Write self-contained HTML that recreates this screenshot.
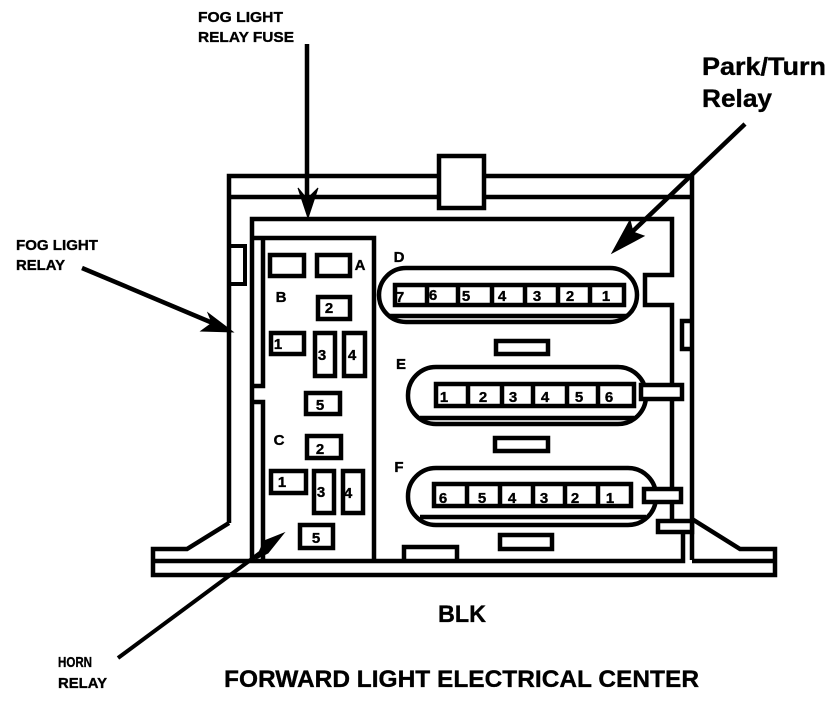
<!DOCTYPE html>
<html><head><meta charset="utf-8"><style>
html,body{margin:0;padding:0;background:#fff}
svg{display:block}
text{font-family:"Liberation Sans",sans-serif;font-weight:bold;fill:#000;stroke:#000;stroke-width:.35px}
.l{font-size:15px}.n{font-size:15px;text-anchor:middle}
</style></head><body>
<svg width="834" height="704" viewBox="0 0 834 704" xmlns="http://www.w3.org/2000/svg">
<g fill="none" stroke="#000" stroke-width="4.5">
<!-- outer housing -->
<path d="M229 523V176H692V560" />
<path d="M229 197H692" />
<path d="M229 523L187 549H153V575H775V549H740L692 519" />
<path d="M229 246H245V284H229" stroke-width="4"/>
<rect x="439" y="156" width="45" height="52" fill="#fff"/>
<!-- inner wall -->
<path d="M252 561V219H672V275H645V305H672V523"/>
<path d="M251 238H374V561" />
<path d="M153 561H683V533" />
<path d="M692 561H775"/>
<path d="M263 238V386H252M252 402H263V561"/>
<path d="M692 321H682V349H692" />
<!-- left fuses -->
<rect x="270" y="255" width="34" height="21"/>
<rect x="317" y="255" width="33" height="21"/>
<rect x="318" y="297" width="32" height="22"/>
<rect x="271" y="333" width="33" height="21"/>
<rect x="315" y="333" width="20" height="43"/>
<rect x="344" y="333" width="21" height="43"/>
<rect x="306" y="393" width="34" height="21"/>
<rect x="307" y="436" width="34" height="22"/>
<rect x="271" y="471" width="35" height="22"/>
<rect x="314" y="471" width="20" height="42"/>
<rect x="343" y="471" width="20" height="42"/>
<rect x="300" y="525" width="33" height="23"/>
<!-- D -->
<rect x="379" y="268" width="258" height="54" rx="27"/>
<path d="M388 316H628"/>
<rect x="395" y="285" width="229" height="20"/>
<path d="M427 285V305M458 285V305M492 285V305M525 285V305M558 285V305M590 285V305"/>
<rect x="496" y="341" width="52" height="13"/>
<!-- E -->
<rect x="408" y="367" width="238" height="57" rx="28"/>
<path d="M420 418H634"/>
<rect x="436" y="384" width="198" height="22"/>
<path d="M468 384V406M502 384V406M533 384V406M567 384V406M598 384V406"/>
<rect x="641" y="385" width="41" height="14" fill="#fff"/>
<rect x="495" y="438" width="53" height="13"/>
<!-- F -->
<rect x="408" y="468" width="248" height="57" rx="28"/>
<path d="M420 517H646"/>
<rect x="434" y="484" width="197" height="22"/>
<path d="M467 484V506M500 484V506M533 484V506M565 484V506M598 484V506"/>
<rect x="644" y="489" width="37" height="13" fill="#fff"/>
<rect x="500" y="535" width="52" height="14"/>
<rect x="658" y="521" width="34" height="11" fill="#fff"/>
<path d="M404 561V547H457V561"/>
</g>
<!-- arrows -->
<g stroke="#000" stroke-width="4.5" fill="#000">
<path d="M307 44V200" fill="none"/>
<path d="M298 188L307 199L318 188L308 218Z" stroke-width="1"/>
<path d="M82 268L215 324" fill="none"/>
<path d="M208 313L233 332L201 331L212 323Z" stroke-width="1"/>
<path d="M745 124L632 232" fill="none"/>
<path d="M630 220L633 232L644 236L612 253Z" stroke-width="1"/>
<path d="M118 658L268 547" fill="none" stroke-width="4"/>
<path d="M284 533L268 553L256 559L264 541Z" stroke-width="1"/>
</g>
<!-- labels -->
<text class="l" x="198" y="22" textLength="85" lengthAdjust="spacingAndGlyphs">FOG LIGHT</text>
<text class="l" x="198" y="42" textLength="96" lengthAdjust="spacingAndGlyphs">RELAY FUSE</text>
<text x="702" y="75" font-size="25" textLength="124" lengthAdjust="spacingAndGlyphs">Park/Turn</text>
<text x="702" y="107" font-size="25" textLength="70" lengthAdjust="spacingAndGlyphs">Relay</text>
<text class="l" x="16" y="250" textLength="82" lengthAdjust="spacingAndGlyphs">FOG LIGHT</text>
<text class="l" x="16" y="270" textLength="49" lengthAdjust="spacingAndGlyphs">RELAY</text>
<text class="l" x="58" y="667" textLength="34" lengthAdjust="spacingAndGlyphs">HORN</text>
<text class="l" x="58" y="688" textLength="49" lengthAdjust="spacingAndGlyphs">RELAY</text>
<text x="438" y="622" font-size="24" textLength="48" lengthAdjust="spacingAndGlyphs">BLK</text>
<text x="224" y="687" font-size="24" textLength="475" lengthAdjust="spacingAndGlyphs">FORWARD LIGHT ELECTRICAL CENTER</text>
<!-- letters -->
<text class="n" x="360" y="270">A</text><text class="n" x="281" y="302">B</text>
<text class="n" x="279" y="445">C</text><text class="n" x="399" y="262">D</text>
<text class="n" x="401" y="369">E</text><text class="n" x="399" y="472">F</text>
<!-- left fuse numbers -->
<text class="n" x="329" y="313">2</text><text class="n" x="278" y="349">1</text>
<text class="n" x="322" y="360">3</text><text class="n" x="352" y="360">4</text>
<text class="n" x="320" y="410">5</text><text class="n" x="320" y="454">2</text>
<text class="n" x="282" y="487">1</text><text class="n" x="321" y="497">3</text>
<text class="n" x="348" y="498">4</text><text class="n" x="316" y="543">5</text>
<!-- D numbers -->
<text class="n" x="400" y="302">7</text><text class="n" x="433" y="300">6</text>
<text class="n" x="466" y="301">5</text><text class="n" x="502" y="301">4</text>
<text class="n" x="537" y="301">3</text><text class="n" x="570" y="301">2</text>
<text class="n" x="606" y="301">1</text>
<!-- E numbers -->
<text class="n" x="444" y="402">1</text><text class="n" x="483" y="402">2</text>
<text class="n" x="513" y="402">3</text><text class="n" x="545" y="402">4</text>
<text class="n" x="579" y="402">5</text><text class="n" x="609" y="402">6</text>
<!-- F numbers -->
<text class="n" x="443" y="503">6</text><text class="n" x="482" y="503">5</text>
<text class="n" x="512" y="503">4</text><text class="n" x="544" y="503">3</text>
<text class="n" x="575" y="503">2</text><text class="n" x="610" y="503">1</text>
</svg>
</body></html>
